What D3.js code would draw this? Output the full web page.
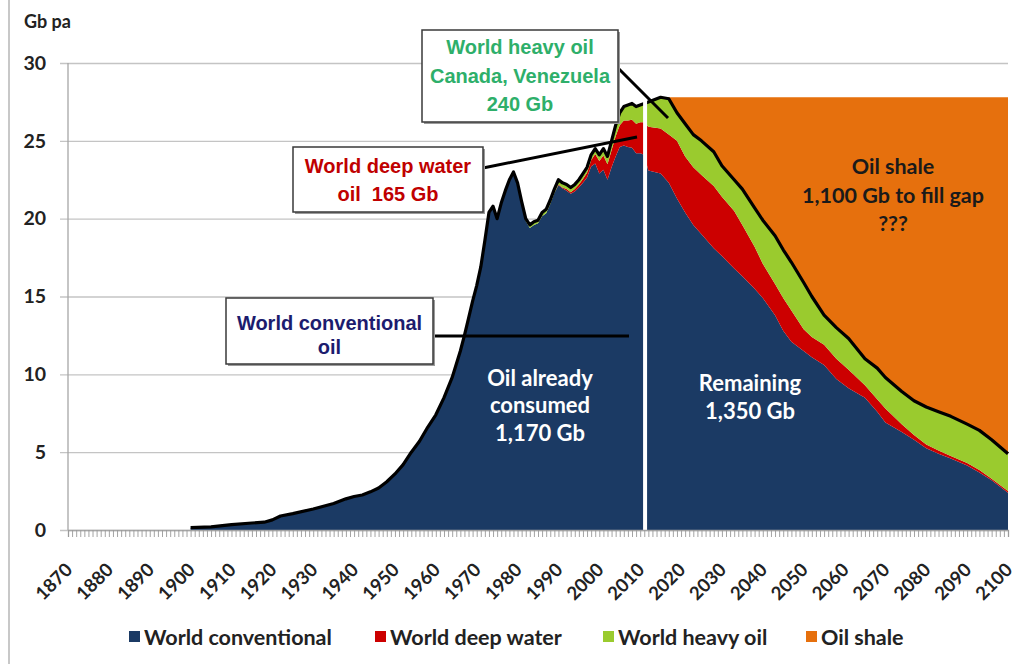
<!DOCTYPE html>
<html>
<head>
<meta charset="utf-8">
<script src="https://cdn.jsdelivr.net/npm/d3@7"></script>
<style>
  html, body { margin: 0; padding: 0; background: #ffffff; }
  svg { display: block; }
</style>
</head>
<body>
<script>
// ---------------- DATA ----------------
const years = [1900,1905,1910,1915,1918,1920,1922,1925,1930,1935,1938,1940,1942,1944,1946,1948,
  1950,1952,1954,1956,1958,1960,1962,1964,1966,1967,1968,1969,1970,1971,1972,1973,1974,1975,
  1976,1977,1978,1979,1980,1981,1982,1983,1984,1985,1986,1987,1988,1989,1990,1991,1992,1993,
  1994,1995,1996,1997,1998,1999,2000,2001,2002,2003,2004,2005,2006,2007,2008,2009,2010,2011,
  2012,2015,2017,2019,2021,2023,2025,2028,2030,2033,2035,2038,2040,2043,2045,2047,2050,2052,
  2055,2058,2061,2065,2068,2070,2074,2077,2080,2083,2086,2090,2093,2096,2100];

const conventional = [0.15,0.2,0.35,0.45,0.5,0.65,0.9,1.05,1.35,1.7,2.0,2.15,2.25,2.45,2.7,3.1,
  3.6,4.2,5.0,5.7,6.6,7.4,8.5,9.8,11.5,12.5,13.6,14.7,15.7,16.9,18.6,20.4,20.8,20.0,
  21.0,21.8,22.5,23.0,22.25,21.0,19.85,19.4,19.6,19.7,20.15,20.35,20.95,21.65,22.15,21.95,21.8,21.6,
  21.75,22.0,22.3,22.65,23.35,23.55,22.9,23.15,22.5,23.3,24.0,24.6,24.7,24.6,24.55,24.2,24.2,24.1,
  23.1,22.9,22.3,21.3,20.4,19.6,19.0,18.1,17.6,16.8,16.3,15.5,14.9,13.8,12.8,12.1,11.5,11.1,
  10.6,9.7,9.1,8.5,7.6,6.9,6.3,5.8,5.25,4.9,4.6,4.15,3.7,3.2,2.4];

const deepWater = [0,0,0,0,0,0,0,0,0,0,0,0,0,0,0,0,
  0,0,0,0,0,0,0,0,0,0,0,0,0,0,0,0,0,0,
  0,0,0,0,0,0,0,0,0,0,0,0,0,0,0.05,0.05,0.1,0.1,
  0.15,0.2,0.25,0.3,0.4,0.6,0.8,0.9,1.0,1.1,1.3,1.4,1.6,1.7,1.8,1.9,2.0,2.1,
  2.8,2.9,3.1,3.7,3.6,3.7,3.8,4.0,3.8,3.7,3.3,2.7,2.2,2.0,2.1,2.0,1.4,1.3,
  1.3,1.3,1.2,0.8,0.8,0.9,0.5,0.3,0.25,0.2,0.15,0.15,0.15,0.1,0.1];

const heavyOil = [0,0,0,0,0,0,0,0,0,0,0,0,0,0,0,0,
  0,0,0,0,0,0,0,0,0,0,0,0,0,0,0,0,0,0,
  0,0,0,0,0.05,0.1,0.15,0.2,0.2,0.2,0.25,0.25,0.25,0.25,0.3,0.3,0.3,0.3,
  0.3,0.3,0.35,0.35,0.35,0.35,0.4,0.45,0.5,0.6,0.7,0.8,0.9,1.0,1.05,1.1,1.1,1.2,
  1.6,2.0,2.3,1.8,2.1,2.1,2.2,2.2,2.0,2.0,2.3,2.5,2.8,3.1,3.1,3.1,3.0,2.6,
  1.9,2.0,2.0,1.7,2.0,2.0,2.1,2.2,2.4,2.5,2.55,2.5,2.55,2.5,2.4];

const oilShale = [0,0,0,0,0,0,0,0,0,0,0,0,0,0,0,0,
  0,0,0,0,0,0,0,0,0,0,0,0,0,0,0,0,0,0,
  0,0,0,0,0,0,0,0,0,0,0,0,0,0,0,0,0,0,
  0,0,0,0,0,0,0,0,0,0,0,0,0,0,0,0,0,0,
  0,0,0.1,1.0,1.7,2.4,2.8,3.5,4.4,5.3,5.9,7.1,7.9,8.9,9.8,10.6,11.9,12.8,
  14.0,14.8,15.5,16.8,17.4,18.0,18.9,19.5,19.9,20.2,20.5,21.0,21.4,22.0,22.9];

const seriesNames = ["World conventional", "World deep water", "World heavy oil", "Oil shale"];
const seriesColors = ["#1b3a64", "#cc0000", "#9acb2e", "#e6700d"];
const yTickValues = [0, 5, 10, 15, 20, 25, 30];
const xLabelYears = d3.range(1870, 2101, 10);
const splitYear = 2011.2;

// ---------------- CHART ----------------
const W = 1028, H = 664;
const svg = d3.select("body").append("svg").attr("width", W).attr("height", H);
svg.append("rect").attr("width", W).attr("height", H).attr("fill", "#ffffff");

// left frame border
svg.append("line").attr("x1", 9).attr("x2", 9).attr("y1", 0).attr("y2", H)
  .attr("stroke", "#c8c8c8").attr("stroke-width", 2);

const x = d3.scaleLinear().domain([1870, 2100]).range([68, 1008]);
const y = d3.scaleLinear().domain([0, 30]).range([530, 63]);

const calFont = "Lato, 'Open Sans', sans-serif";
const boxFont = "'Liberation Sans', Arial, sans-serif";

// gridlines + y labels
const yAxis = d3.axisLeft(y).tickValues(yTickValues).tickSize(-(1008 - 60)).tickPadding(14).tickFormat(d3.format("d"));
const gy = svg.append("g").attr("transform", "translate(60,0)").call(yAxis);
gy.select(".domain").remove();
gy.selectAll(".tick line").attr("stroke", "#c4c4c4").attr("stroke-width", 1.3);
gy.selectAll(".tick text").attr("font-family", calFont).attr("font-weight", 700)
  .attr("font-size", 19.5).attr("fill", "#222");

svg.append("text").attr("x", 24).attr("y", 28).text("Gb pa")
  .attr("font-family", calFont).attr("font-weight", 700).attr("font-size", 18).attr("fill", "#222");

// stacked data
const rows = years.map((yr, i) => ({
  year: yr,
  [seriesNames[0]]: conventional[i],
  [seriesNames[1]]: deepWater[i],
  [seriesNames[2]]: heavyOil[i],
  [seriesNames[3]]: oilShale[i]
}));
const stack = d3.stack().keys(seriesNames);
const layers = stack(rows);

const area = d3.area()
  .x(d => x(d.data.year))
  .y0(d => y(d[0]))
  .y1(d => y(d[1]));

svg.append("g").selectAll("path").data(layers).join("path")
  .attr("d", area)
  .attr("fill", (d, i) => seriesColors[i]);

// total outline (conventional + deep + heavy)
const line = d3.line().x(d => x(d.data.year)).y(d => y(d[1])).curve(d3.curveLinear);
svg.append("path").datum(layers[2]).attr("d", line)
  .attr("fill", "none").attr("stroke", "#000").attr("stroke-width", 3.2).attr("stroke-linejoin", "round");

// white split line
svg.append("line").attr("x1", x(splitYear)).attr("x2", x(splitYear))
  .attr("y1", y(27.7)).attr("y2", y(0))
  .attr("stroke", "#ffffff").attr("stroke-width", 4);

// y axis line
svg.append("line").attr("x1", 68).attr("x2", 68).attr("y1", y(30)).attr("y2", y(0))
  .attr("stroke", "#a6a6a6").attr("stroke-width", 1.3);

// x axis: yearly ticks
const xMinor = d3.axisBottom(x).tickValues(d3.range(1870, 2101, 1)).tickSize(7).tickFormat("");
const gxm = svg.append("g").attr("transform", "translate(0,530)").call(xMinor);
gxm.select(".domain").attr("stroke", "#a6a6a6").attr("stroke-width", 1.3);
gxm.selectAll(".tick line").attr("stroke", "#9a9a9a").attr("stroke-width", 0.9);

const xLabels = d3.axisBottom(x).tickValues(xLabelYears).tickSize(0).tickFormat(d3.format("d"));
const gxl = svg.append("g").attr("transform", "translate(0,530)").call(xLabels);
gxl.select(".domain").remove();
gxl.selectAll(".tick text")
  .attr("x", 0).attr("y", 0).attr("dy", 0)
  .attr("text-anchor", "end")
  .attr("transform", "translate(5,41) rotate(-45)")
  .attr("font-family", calFont).attr("font-weight", 700)
  .attr("font-size", 18.5).attr("fill", "#222");

// ---------------- ANNOTATIONS ----------------
function box(x0, y0, w, h) {
  svg.append("rect").attr("x", x0 + 2).attr("y", y0 + 2).attr("width", w).attr("height", h).attr("fill", "#9a9a9a");
  svg.append("rect").attr("x", x0).attr("y", y0).attr("width", w).attr("height", h)
    .attr("fill", "#fff").attr("stroke", "#3a3a3a").attr("stroke-width", 1.5);
}
function lines(cx, ys, texts, color, family, size) {
  texts.forEach((t, i) => {
    svg.append("text").attr("x", cx).attr("y", ys[i]).attr("text-anchor", "middle")
      .attr("dominant-baseline", "central")
      .attr("font-family", family).attr("font-weight", 700).attr("font-size", size)
      .attr("fill", color).attr("xml:space", "preserve").text(t);
  });
}
function leader(x1, y1, x2, y2) {
  svg.append("line").attr("x1", x1).attr("y1", y1).attr("x2", x2).attr("y2", y2)
    .attr("stroke", "#000").attr("stroke-width", 3);
}

// leaders first (under boxes)
leader(618, 68, 668, 118);
leader(483, 168, 637, 137);
leader(433, 336, 629, 336);

box(422, 30, 196, 92);
lines(520, [47, 76, 104], ["World heavy oil", "Canada, Venezuela", "240 Gb"], "#2eaf6a", boxFont, 20);

box(293, 147, 190, 65);
lines(388, [166, 194], ["World deep water", "oil  165 Gb"], "#c00000", boxFont, 20);

box(226, 298, 207, 66);
lines(329.5, [323, 347], ["World conventional", "oil"], "#1c1c6e", boxFont, 20);

lines(540, [377, 404, 432], ["Oil already", "consumed", "1,170 Gb"], "#ffffff", calFont, 22);
lines(750, [382, 410], ["Remaining", "1,350 Gb"], "#ffffff", calFont, 22);
lines(893, [166, 195, 223], ["Oil shale", "1,100 Gb to fill gap", "???"], "#1a1a1a", calFont, 21.5);

// ---------------- LEGEND ----------------
const legendX = [129, 375, 603, 806];
const lg = svg.append("g");
seriesNames.forEach((n, i) => {
  lg.append("rect").attr("x", legendX[i]).attr("y", 631).attr("width", 11).attr("height", 11).attr("fill", seriesColors[i]);
  lg.append("text").attr("x", legendX[i] + 15).attr("y", 637).attr("dominant-baseline", "central")
    .attr("font-family", calFont).attr("font-weight", 700).attr("font-size", 21.5).attr("fill", "#222").text(n);
});
</script>
</body>
</html>
